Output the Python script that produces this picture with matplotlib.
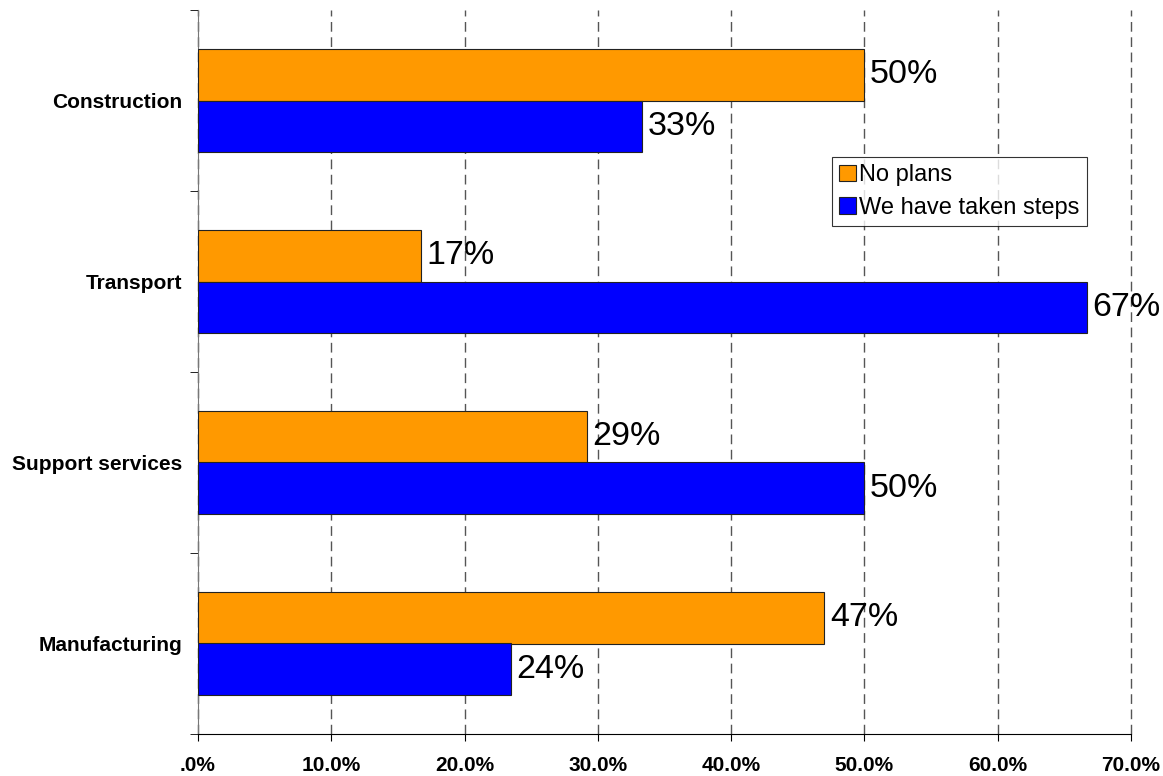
import matplotlib
matplotlib.use("Agg")
import matplotlib.pyplot as plt
import numpy as np

plt.rcParams['font.family'] = ['Liberation Sans', 'DejaVu Sans']

# --- Data ---
sectors = ['Manufacturing', 'Support services', 'Transport', 'Construction']
no_plans = [47.0, 29.2, 16.7, 50.0]
taken_steps = [23.5, 50.0, 66.7, 33.3]
x_ticks = [0, 10, 20, 30, 40, 50, 60, 70]
x_tick_labels = ['.0%', '10.0%', '20.0%', '30.0%', '40.0%', '50.0%', '60.0%', '70.0%']

orange = '#FF9900'
blue = '#0000FF'

fig = plt.figure(figsize=(11.63, 7.76), dpi=100)
ax = fig.add_axes([198 / 1163, 1 - 734 / 776, (1131 - 198) / 1163, (734 - 10) / 776])

y = np.arange(len(sectors))
h = 0.285
b1 = ax.barh(y + h / 2, no_plans, height=h, color=orange, edgecolor='#222222',
             linewidth=0.8, label='No plans', zorder=3)
b2 = ax.barh(y - h / 2, taken_steps, height=h, color=blue, edgecolor='#222222',
             linewidth=0.8, label='We have taken steps', zorder=3)

# value labels
for bars, vals in [(b1, no_plans), (b2, taken_steps)]:
    for bar, v in zip(bars, vals):
        ax.text(v + 0.4, bar.get_y() + bar.get_height() / 2, f'{round(v):d}%',
                va='center', ha='left', fontsize=24.5, zorder=4)

ax.set_xlim(0, 70)
ax.set_ylim(-0.5, len(sectors) - 0.5)

ax.set_xticks(x_ticks)
ax.set_xticklabels(x_tick_labels, fontsize=15, fontweight='bold')
ax.set_yticks(y)
ax.set_yticklabels(sectors, fontsize=15, fontweight='bold')
ax.set_yticks(np.arange(-0.5, len(sectors)), minor=True)

ax.tick_params(axis='y', which='major', length=0, pad=11)
ax.tick_params(axis='y', which='minor', length=6, color='black', direction='out')
ax.tick_params(axis='x', length=5, direction='out', pad=11)

ax.grid(axis='x', linestyle=(0, (7, 4)), color='#555555', linewidth=1, zorder=0)
for gl in ax.get_xgridlines():
    gl.set_clip_on(False)

ax.spines['top'].set_visible(False)
ax.spines['right'].set_visible(False)
ax.spines['left'].set_color('#777777')
ax.spines['bottom'].set_color('black')

leg = ax.legend(loc='upper left', bbox_to_anchor=((832 - 198) / 933, 1 - (157 - 10) / 724),
                fontsize=17, frameon=True, fancybox=False, edgecolor='black',
                handlelength=0.7, handleheight=0.7, handletextpad=0.15,
                borderpad=0.3, labelspacing=0.45, borderaxespad=0)
leg.get_frame().set_linewidth(0.8)

fig.savefig('out.png', dpi=100)
